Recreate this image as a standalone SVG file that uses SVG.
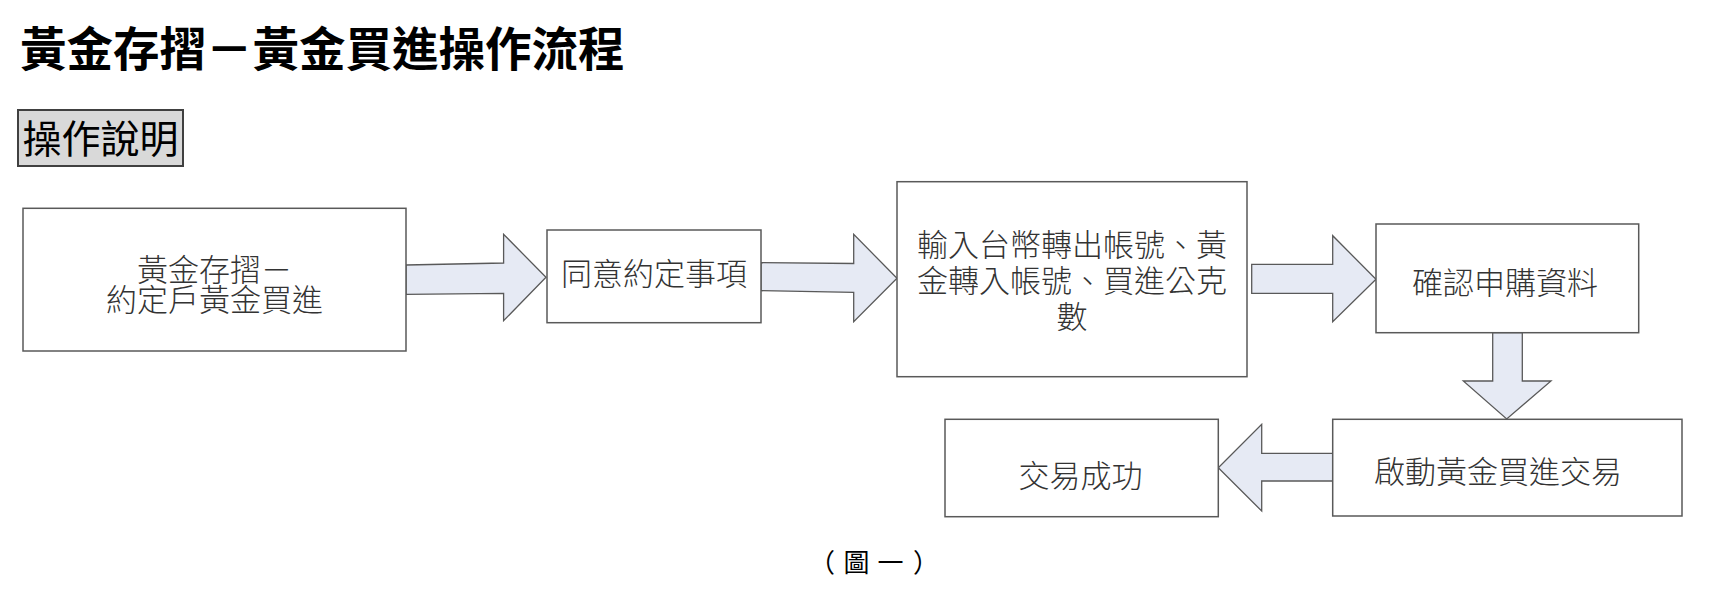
<svg xmlns="http://www.w3.org/2000/svg" width="1728" height="610" viewBox="0 0 1728 610">
<style>
  .title{font-family:"Noto Sans CJK TC","Noto Sans CJK SC",sans-serif;font-weight:700;font-size:46.5px;fill:#000}
  .sub{font-family:"Noto Sans CJK TC","Noto Sans CJK SC",sans-serif;font-weight:400;font-size:39px;fill:#000}
  .box{fill:#fff;stroke:#595959;stroke-width:1.5}
  .lbl{font-family:"Noto Sans CJK TC","Noto Sans CJK SC",sans-serif;font-weight:300;font-size:31px;fill:#333;text-anchor:middle}
  .arrow{fill:#e6eaf4;stroke:#595959;stroke-width:1.3;stroke-linejoin:miter}
  .cap{font-family:"Noto Sans CJK TC","Noto Sans CJK SC",sans-serif;font-size:26px;fill:#000;text-anchor:middle}
</style>
<rect width="1728" height="610" fill="#fff"/>
<text class="title" x="20" y="66">黃金存摺－黃金買進操作流程</text>
<g id="heading">
  <rect x="18" y="110" width="165" height="56" fill="#d9d9d9" stroke="#404040" stroke-width="2"/>
  <text class="sub" x="100.5" y="153" text-anchor="middle">操作說明</text>
</g>
<g id="connectors">
  <polygon class="arrow" points="406,265 503.6,263 503.6,234.3 546,277.3 503.6,320.7 503.6,293.3 406,294.3"/>
  <polygon class="arrow" points="761,262.7 853.7,263.5 853.7,234.3 897,278.3 853.7,321.7 853.7,292.3 761,290.7"/>
  <polygon class="arrow" points="1251.7,264.3 1332.7,264.3 1332.7,235.7 1376,279.3 1332.7,321.7 1332.7,293.3 1251.7,293.3"/>
  <polygon class="arrow" points="1492.7,332.7 1522.3,332.7 1522.3,381 1551,381 1506.7,419 1463.3,381 1492.7,381"/>
  <polygon class="arrow" points="1333.3,453.3 1261.7,453.3 1261.7,424.3 1218.3,467.7 1261.7,511 1261.7,481 1333.3,481"/>
</g>
<g id="n1">
  <rect class="box" x="23" y="208.3" width="383" height="142.7"/>
  <text class="lbl" x="214.5" y="281">黃金存摺－</text>
  <text class="lbl" x="214.5" y="311">約定戶黃金買進</text>
</g>
<g id="n2">
  <rect class="box" x="547" y="230" width="214" height="92.7"/>
  <text class="lbl" x="654" y="285">同意約定事項</text>
</g>
<g id="n3">
  <rect class="box" x="897" y="181.7" width="350" height="195"/>
  <text class="lbl" x="1072" y="256">輸入台幣轉出帳號、黃</text>
  <text class="lbl" x="1072" y="292">金轉入帳號、買進公克</text>
  <text class="lbl" x="1072" y="328">數</text>
</g>
<g id="n4">
  <rect class="box" x="1376" y="224" width="262.7" height="108.7"/>
  <text class="lbl" x="1505" y="294">確認申購資料</text>
</g>
<g id="n5">
  <rect class="box" x="1332.7" y="419.3" width="349.3" height="96.7"/>
  <text class="lbl" x="1498" y="483">啟動黃金買進交易</text>
</g>
<g id="n6">
  <rect class="box" x="945" y="419.3" width="273.3" height="97.4"/>
  <text class="lbl" x="1080.5" y="487">交易成功</text>
</g>
<text class="cap" y="572"><tspan x="822">（</tspan><tspan x="856.5">圖</tspan><tspan x="890.5">一</tspan><tspan x="926">）</tspan></text>
</svg>
